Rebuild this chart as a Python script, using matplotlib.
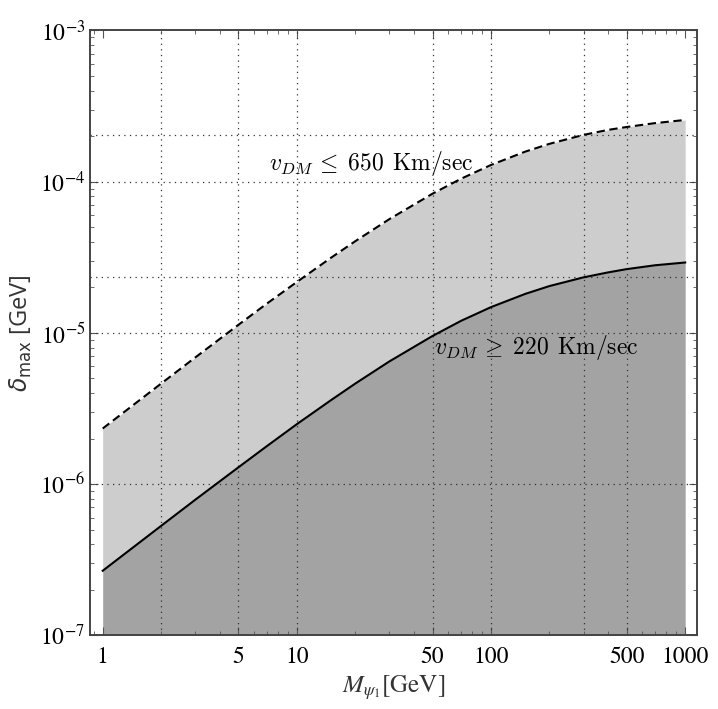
import numpy as np
import matplotlib.pyplot as plt

# -----------------------------------------------------------
# 1. Data
# -----------------------------------------------------------
mass = [1, 2, 3, 5, 7, 10, 15, 20, 30, 50, 70, 100, 150, 200, 300, 400, 500, 700, 1000]
delta_650 = [2.33e-6, 4.62e-6, 6.88e-6, 1.13e-5, 1.56e-5, 2.17e-5, 3.14e-5, 4.04e-5,
             5.66e-5, 8.33e-5, 1.045e-4, 1.29e-4, 1.58e-4, 1.78e-4, 2.04e-4, 2.20e-4,
             2.30e-4, 2.44e-4, 2.56e-4]
delta_220 = [2.67e-7, 5.29e-7, 7.88e-7, 1.29e-6, 1.78e-6, 2.49e-6, 3.59e-6, 4.62e-6,
             6.48e-6, 9.54e-6, 1.20e-5, 1.48e-5, 1.81e-5, 2.04e-5, 2.33e-5, 2.51e-5,
             2.64e-5, 2.80e-5, 2.92e-5]

x_ticks = [1, 5, 10, 50, 100, 500, 1000]
x_grid = [2, 5, 10, 50, 100, 300, 500]
y_ticks = [1e-7, 1e-6, 1e-5, 1e-4, 1e-3]
y_grid = [1e-6, 1e-5, 1e-4, 2.33e-5, 2.04e-4]

plt.rcParams['mathtext.fontset'] = 'stix'
plt.rcParams['font.family'] = 'STIXGeneral'

# -----------------------------------------------------------
# 2. Plot
# -----------------------------------------------------------
fig = plt.figure(figsize=(7.18, 7.09), dpi=100)
ax = fig.add_axes([0.1253, 0.104, 0.8454, 0.853])

ax.set_xscale('log')
ax.set_yscale('log')
ax.set_xlim(0.86, 1150)
ax.set_ylim(1e-7, 1e-3)

ax.fill_between(mass, delta_220, delta_650, color='#cdcdcd', linewidth=0, zorder=1)
ax.fill_between(mass, 1e-7, delta_220, color='#a3a3a3', linewidth=0, zorder=1)
ax.plot(mass, delta_650, color='black', linestyle=(0, (4, 2.2)), linewidth=1.5, zorder=3)
ax.plot(mass, delta_220, color='black', linewidth=1.5, zorder=3)

# grid lines (dotted)
for gx in x_grid:
    ax.axvline(gx, color='#333333', linestyle=(0, (1, 3.5)), linewidth=0.9, zorder=2)
for gy in y_grid:
    ax.axhline(gy, color='#333333', linestyle=(0, (1, 3.5)), linewidth=0.9, zorder=2)

ax.text(7.2, 1.32e-4, r'$v_{DM}\,\leq\;650\;\,\mathrm{Km/sec}$', fontsize=17,
        va='center', math_fontfamily='cm', zorder=4)
ax.text(51, 8.0e-6, r'$v_{DM}\,\geq\;220\;\,\mathrm{Km/sec}$', fontsize=17,
        va='center', math_fontfamily='cm', zorder=4)

ax.set_xticks(x_ticks)
ax.set_xticklabels([str(t) for t in x_ticks], fontsize=17)
ax.set_yticks(y_ticks)
ax.set_yticklabels([r'$10^{%d}$' % int(np.log10(t)) for t in y_ticks], fontsize=17)
ax.tick_params(which='both', direction='in', top=True, right=True, color='#555555')
ax.tick_params(which='major', length=6, width=0.8)
ax.tick_params(which='minor', length=3, width=0.6)
ax.tick_params(axis='x', pad=8)

for s in ax.spines.values():
    s.set_color('#444444')
    s.set_linewidth(1.4)

ax.set_xlabel(r'$M_{\psi_1}$[GeV]', fontsize=18, color='#333333', labelpad=4)
ax.set_ylabel(r'$\delta_{\mathrm{max}}$ [GeV]', fontsize=17, family='Open Sans',
              math_fontfamily='dejavusans', color='#333333')

plt.savefig('out.png', dpi=100)
